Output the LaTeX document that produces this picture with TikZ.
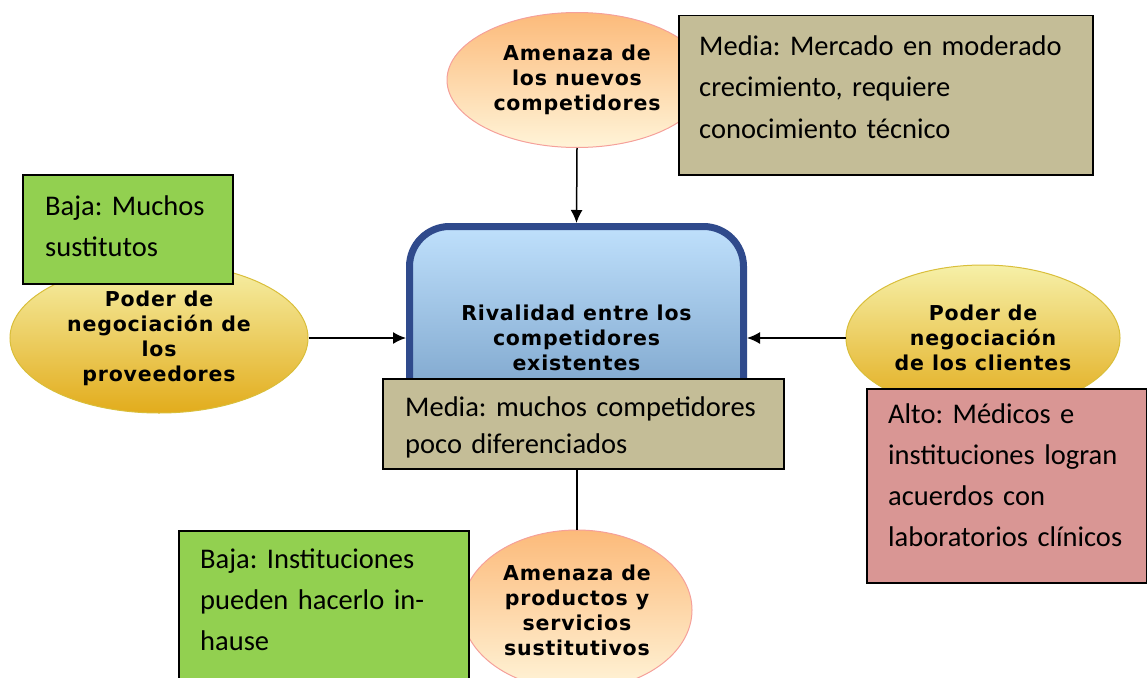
\documentclass[tikz,border=0pt]{standalone}
\usepackage{fontspec}
\setmainfont{Carlito}
\newfontfamily\ellfam[LetterSpace=4]{DejaVu Sans}
\usetikzlibrary{shapes.geometric,arrows.meta}
\definecolor{ylwtop}{HTML}{F6F0A8}
\definecolor{ylwbot}{HTML}{E2AC1C}
\definecolor{ylwline}{HTML}{D9BE3A}
\definecolor{orgtop}{HTML}{FCBA7A}
\definecolor{orgbot}{HTML}{FFF4D8}
\definecolor{orgline}{HTML}{F5A09A}
\definecolor{rivtop}{HTML}{BFE0FC}
\definecolor{rivbot}{HTML}{6A94BE}
\definecolor{rivline}{HTML}{2F4A8C}
\definecolor{tanbox}{HTML}{C4BD97}
\definecolor{grnbox}{HTML}{92D050}
\definecolor{pnkbox}{HTML}{D99694}
\tikzset{
  ellbase/.style={ellipse,line width=1pt,inner sep=0pt,align=center,
    font=\ellfam\bfseries\fontsize{20.5}{25}\selectfont},
  ylwell/.style={ellbase,draw=ylwline,top color=ylwtop,bottom color=ylwbot},
  orgell/.style={ellbase,draw=orgline,top color=orgtop,bottom color=orgbot},
  rivbox/.style={rectangle,rounded corners=40pt,draw=rivline,line width=7pt,
    top color=rivtop,bottom color=rivbot,minimum width=334pt,minimum height=223pt,
    align=center,font=\ellfam\bfseries\fontsize{20.5}{25}\selectfont},
  note/.style={rectangle,draw=black,line width=1.5pt,anchor=north west,inner sep=0pt},
  notetext/.style={anchor=base west,align=left,inner sep=0pt,
    font=\fontsize{28.5}{41}\selectfont\frenchspacing},
  conn/.style={draw=black,line width=1.5pt,-{Latex[length=13pt,width=12pt]}},
  plain/.style={draw=black,line width=1.5pt}
}
\begin{document}
\frenchspacing
\begin{tikzpicture}[x=1pt,y=-1pt]
\useasboundingbox (0,0) rectangle (1147,677);
\clip (0,0) rectangle (1147,677);
% central and ellipses
\node[rivbox] (riv) at (576.5,338) {Rivalidad entre los\\competidores\\existentes};
\node[orgell,minimum width=260pt,minimum height=135pt] (newc) at (577,80) {Amenaza de\\los nuevos\\competidores};
\node[ylwell,minimum width=298pt,minimum height=150pt] (prov) at (159,338) {Poder de\\negociación de\\los\\proveedores};
\node[ylwell,minimum width=274pt,minimum height=146pt] (cli) at (983,338) {Poder de\\negociación\\de los clientes};
\node[orgell,minimum width=230pt,minimum height=160pt] (subs) at (577,610) {Amenaza de\\productos y\\servicios\\sustitutivos};
% connectors
\draw[conn] (newc.south) -- (riv.north);
\draw[conn] (prov.east) -- (riv.west);
\draw[conn] (cli.west) -- (riv.east);
% note boxes
\node[note,fill=tanbox,minimum width=414pt,minimum height=159pt] (trbox) at (678,15) {};
\node[notetext,text width=390pt] (trtext) at (699,56) {Media: Mercado en moderado\\crecimiento, requiere\\conocimiento técnico};
\node[note,fill=grnbox,minimum width=210pt,minimum height=109pt] (lbox) at (22,174) {};
\node[notetext,text width=185pt] (ltext) at (45,215) {Baja: Muchos\\sustitutos};
\node[note,fill=tanbox,minimum width=401pt,minimum height=90pt] (mbox) at (382,378) {};
\node[notetext,text width=375pt,font=\fontsize{28.5}{37}\selectfont\frenchspacing] (mtext) at (405,416) {Media: muchos competidores\\poco diferenciados};
\node[note,fill=pnkbox,minimum width=280pt,minimum height=194pt] (pbox) at (866,388) {};
\node[notetext,text width=258pt] (ptext) at (888,423) {Alto: Médicos e\\instituciones logran\\acuerdos con\\laboratorios clínicos};
\node[note,fill=grnbox,minimum width=290pt,minimum height=160pt] (gbox) at (178,530) {};
\node[notetext,text width=265pt] (gtext) at (200,568) {Baja: Instituciones\\pueden hacerlo in-\\hause};
\draw[plain] (subs.north |- mbox.south) -- (subs.north);
\end{tikzpicture}
\end{document}
